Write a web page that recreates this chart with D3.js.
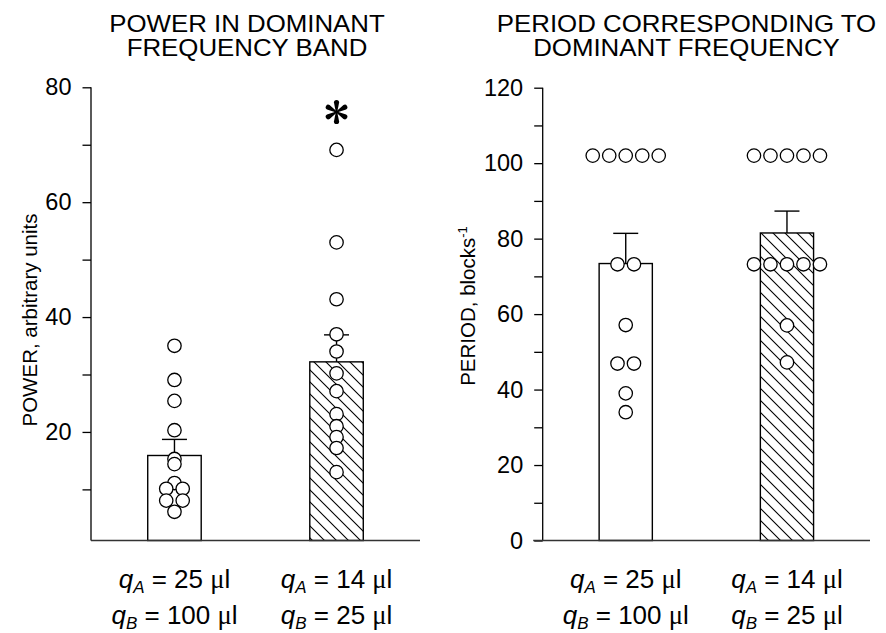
<!DOCTYPE html>
<html><head><meta charset="utf-8">
<script src="https://cdn.jsdelivr.net/npm/d3@7"></script>
<style>body{margin:0;background:#fff}svg{display:block}text{font-family:"Liberation Sans",Arial,sans-serif;fill:#000}</style>
</head><body>
<svg id="c" width="886" height="633"></svg>
<script>
// ---- data ----
const groups = ["g1", "g2"];
const xLabelsA = ["25", "14"];
const xLabelsB = ["100", "25"];
const powerPoints = [
  [35.0, 29.05, 25.4, 20.3, 15.3, 14.4, 11.1, 10.1, 10.1, 8.05, 8.05, 6.1],
  [69.1, 53.0, 43.1, 37.0, 34.0, 30.2, 27.1, 23.1, 21.0, 19.1, 17.2, 13.0]
];
const powerMean = [15.9, 32.2];
const powerSE = [2.8, 4.7];
const periodPoints = [
  [102, 102, 102, 102, 102, 73.2, 73.2, 57.1, 46.9, 46.9, 39.0, 34.0],
  [102, 102, 102, 102, 102, 73.2, 73.2, 73.2, 73.2, 73.2, 57.0, 47.2]
];
const periodMean = [73.4, 81.5];
const periodSE = [8.0, 5.8];
const powerTicks = [20, 40, 60, 80];
const powerMinor = [10, 30, 50, 70];
const periodTicks = [0, 20, 40, 60, 80, 100, 120];
const periodMinor = [10, 30, 50, 70, 90, 110];

const svg = d3.select("#c");
const defs = svg.append("defs");
const pat = defs.append("pattern").attr("id", "hatch").attr("patternUnits", "userSpaceOnUse")
  .attr("width", 12).attr("height", 12);
pat.append("path").attr("d", "M0,0L12,12M-3,9L3,15M9,-3L15,3")
  .attr("stroke", "#000").attr("stroke-width", 1.1);

function panel(cfg) {
  const g = svg.append("g");
  const x = d3.scaleBand().domain(groups).range(cfg.xr).paddingInner(cfg.pin).paddingOuter(cfg.pout);
  const y = d3.scaleLinear().domain(cfg.yd).range([540.5, cfg.ytop]);
  const base = y.range()[0];
  groups.forEach((k, i) => {
    const bx = x(k), bw = x.bandwidth();
    const top = y(cfg.mean[i]);
    const et = y(cfg.mean[i] + cfg.se[i]);
    g.append("line").attr("x1", bx + bw / 2).attr("x2", bx + bw / 2).attr("y1", top).attr("y2", et)
      .attr("stroke", "#000").attr("stroke-width", 1.4);
    g.append("line").attr("x1", bx + bw / 2 - 12.5).attr("x2", bx + bw / 2 + 12.5).attr("y1", et).attr("y2", et)
      .attr("stroke", "#000").attr("stroke-width", 1.4);
    g.append("rect").attr("x", bx).attr("y", top).attr("width", bw).attr("height", base - top)
      .attr("fill", i === 0 ? "#fff" : "url(#hatch)").attr("stroke", "#000").attr("stroke-width", 1.4);
  });
  const sp = 16.5;
  groups.forEach((k, i) => {
    const cx = x(k) + x.bandwidth() / 2;
    const counts = d3.rollup(cfg.pts[i], v => v.length, d => d);
    const seen = new Map();
    cfg.pts[i].forEach(v => {
      const n = counts.get(v), j = seen.get(v) || 0;
      seen.set(v, j + 1);
      const off = (j - (n - 1) / 2) * sp;
      g.append("circle").attr("cx", cx + off).attr("cy", y(v)).attr("r", 6.7)
        .attr("fill", "#fff").attr("stroke", "#000").attr("stroke-width", 1.3);
    });
  });
  const yAxis = d3.axisLeft(y).tickValues(cfg.ticks).tickSize(8.5).tickPadding(11).tickSizeOuter(0);
  const ag = g.append("g").attr("transform", `translate(${cfg.xr[0]},0)`).call(yAxis);
  ag.attr("font-size", null).attr("font-family", null);
  ag.select(".domain").attr("d", `M0,${y.range()[1]}V${base}`).attr("stroke", "#000").attr("stroke-width", 1.3);
  ag.selectAll(".tick line").attr("stroke", "#000").attr("stroke-width", 1.3);
  ag.selectAll(".tick text").style("font-size", "23.5px").style("font-family", "Liberation Sans, Arial, sans-serif").attr("fill", "#000");
  const mg = g.append("g").attr("transform", `translate(${cfg.xr[0]},0)`)
    .call(d3.axisLeft(y).tickValues(cfg.minor).tickSize(8.5).tickFormat(""));
  mg.select(".domain").remove();
  mg.selectAll(".tick line").attr("stroke", "#000").attr("stroke-width", 1.3);
  g.append("line").attr("x1", cfg.xr[0] - cfg.baseExt).attr("x2", cfg.xr[1]).attr("y1", base).attr("y2", base)
    .attr("stroke", "#333").attr("stroke-width", 1.4);
  groups.forEach((k, i) => {
    const cx = x(k) + x.bandwidth() / 2;
    [[xLabelsA[i], "A", 588], [xLabelsB[i], "B", 623.5]].forEach(([val, sub, yy]) => {
      const t = g.append("text").attr("x", cx).attr("y", yy).attr("text-anchor", "middle").style("font-size", "26px");
      t.append("tspan").attr("font-style", "italic").text("q");
      t.append("tspan").attr("font-style", "italic").style("font-size", "17px").attr("dy", 5).text(sub);
      t.append("tspan").attr("dy", -5).text(" = " + val + " ");
      t.append("tspan").style("font-family", "Liberation Serif, serif").style("font-size", "26.5px").text("μ");
      t.append("tspan").text("l");
    });
  });
  cfg.title.forEach((s, j) => {
    g.append("text").attr("transform", `translate(${cfg.tx},${32 + j * 24}) scale(1.1,1)`).attr("text-anchor", "middle")
      .style("font-size", "23.5px").text(s);
  });
  return { g, x, y };
}

const p1 = panel({ xr: [91, 420], pin: 0.67, pout: 0.35, yd: [1.1, 80], ytop: 87.3,
  mean: powerMean, se: powerSE, pts: powerPoints, ticks: powerTicks, minor: powerMinor, baseExt: 0,
  title: ["POWER IN DOMINANT", "FREQUENCY BAND"], tx: 247 });
const p2 = panel({ xr: [542.7, 870], pin: 0.67, pout: 0.35, yd: [0, 120], ytop: 87.7,
  mean: periodMean, se: periodSE, pts: periodPoints, ticks: periodTicks, minor: periodMinor, baseExt: 9.5,
  title: ["PERIOD CORRESPONDING TO", "DOMINANT FREQUENCY"], tx: 686.5 });

// significance asterisk (six tapered spokes)
const ast = svg.append("g").attr("transform", `translate(${p1.x("g2") + p1.x.bandwidth() / 2},112)`);
[0, 60, 120, 180, 240, 300].forEach(a => {
  ast.append("path").attr("transform", `rotate(${a})`)
    .attr("d", "M-0.7,0L-2.6,-9.5A2.6,2.6 0 1 1 2.6,-9.5L0.7,0Z").attr("fill", "#000");
});

// y labels
svg.append("text").attr("transform", "translate(37,320) rotate(-90)").attr("text-anchor", "middle")
  .style("font-size", "20.5px").text("POWER, arbitrary units");
const yl = svg.append("text").attr("transform", "translate(475,306) rotate(-90)").attr("text-anchor", "middle")
  .style("font-size", "20.5px");
yl.append("tspan").text("PERIOD, blocks");
yl.append("tspan").style("font-size", "13px").attr("dy", -8).text("-1");
</script>
</body></html>
